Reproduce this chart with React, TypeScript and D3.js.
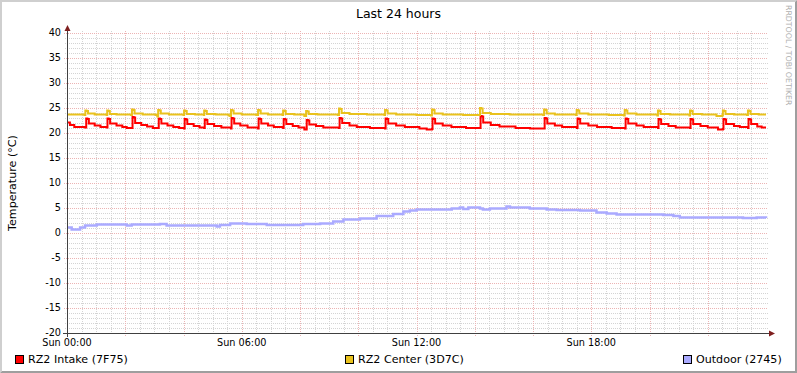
import React from 'react';
import * as d3 from 'd3';

// hours since Sun 00:00, temperature in °C
const intake: [number, number][] = [
  [0, 22.1], [0.1, 21.6], [0.25, 21.2], [0.62, 21.1],
  [0.66, 22.9], [0.7, 22.8], [0.75, 21.9], [0.95, 21.5], [1.15, 21.2], [1.37, 21.1],
  [1.39, 22.9], [1.43, 22.8], [1.48, 21.9], [1.7, 21.5], [1.9, 21.2], [2.05, 21.0], [2.23, 21.0],
  [2.25, 23.2], [2.29, 23.1], [2.34, 22.0], [2.55, 21.6], [2.75, 21.3], [2.95, 21.0], [3.13, 21.0],
  [3.15, 22.9], [3.19, 22.8], [3.24, 21.9], [3.45, 21.5], [3.65, 21.2], [3.85, 21.0], [4.02, 20.9],
  [4.04, 22.8], [4.08, 22.7], [4.13, 21.8], [4.35, 21.4], [4.55, 21.1], [4.71, 21.0],
  [4.73, 22.7], [4.77, 22.6], [4.82, 21.8], [5.05, 21.4], [5.3, 21.1], [5.63, 20.9],
  [5.65, 23.0], [5.69, 22.9], [5.74, 21.9], [5.95, 21.5], [6.2, 21.1], [6.56, 20.9],
  [6.58, 22.9], [6.62, 22.8], [6.67, 21.9], [6.9, 21.5], [7.1, 21.2], [7.42, 21.0],
  [7.44, 22.8], [7.48, 22.7], [7.53, 21.8], [7.75, 21.4], [7.95, 21.1], [8.15, 20.7], [8.21, 20.7],
  [8.23, 22.6], [8.27, 22.5], [8.32, 21.7], [8.55, 21.4], [8.8, 21.1], [9.34, 21.0],
  [9.36, 23.0], [9.4, 22.9], [9.45, 22.0], [9.7, 21.5], [9.95, 21.2], [10.4, 21.0], [10.92, 20.9],
  [10.94, 22.9], [10.98, 22.8], [11.03, 21.9], [11.3, 21.5], [11.6, 21.2], [12.1, 20.9], [12.35, 20.7], [12.53, 20.8],
  [12.55, 22.9], [12.59, 22.8], [12.64, 21.9], [12.9, 21.5], [13.2, 21.2], [13.7, 21.0], [14.18, 21.0],
  [14.2, 23.4], [14.24, 23.3], [14.29, 22.1], [14.55, 21.6], [14.85, 21.3], [15.4, 21.0], [15.9, 20.9], [16.38, 20.9],
  [16.4, 23.0], [16.44, 22.9], [16.49, 21.9], [16.75, 21.5], [17.0, 21.2], [17.51, 21.0],
  [17.53, 22.9], [17.57, 22.8], [17.62, 21.9], [17.9, 21.5], [18.2, 21.2], [18.7, 21.0], [19.16, 20.9],
  [19.18, 22.9], [19.22, 22.8], [19.27, 21.9], [19.55, 21.5], [19.8, 21.2], [20.29, 21.0],
  [20.31, 22.8], [20.35, 22.7], [20.4, 21.8], [20.65, 21.4], [20.9, 21.1], [21.39, 21.0],
  [21.41, 22.8], [21.45, 22.7], [21.5, 21.8], [21.75, 21.4], [22.0, 21.1], [22.35, 20.7], [22.52, 20.8],
  [22.54, 22.8], [22.58, 22.7], [22.63, 21.8], [22.9, 21.4], [23.1, 21.2], [23.38, 21.0],
  [23.4, 22.8], [23.44, 22.7], [23.49, 21.8], [23.7, 21.3], [23.85, 21.1], [24.0, 21.1],
];

const center: [number, number][] = [
  [0, 23.7], [0.6, 23.6], [0.63, 24.5], [0.67, 24.4], [0.72, 23.9], [0.95, 23.7], [1.36, 23.6],
  [1.38, 24.5], [1.42, 24.4], [1.47, 23.8], [1.7, 23.7], [2.2, 23.6],
  [2.23, 24.7], [2.27, 24.6], [2.32, 23.9], [2.6, 23.7], [3.05, 23.6], [3.1, 23.3],
  [3.13, 24.6], [3.17, 24.5], [3.22, 23.9], [3.5, 23.7], [4.0, 23.6],
  [4.02, 24.5], [4.06, 24.4], [4.11, 23.8], [4.4, 23.7], [4.7, 23.6],
  [4.71, 24.5], [4.75, 24.4], [4.8, 23.8], [5.1, 23.7], [5.55, 23.5], [5.6, 23.4],
  [5.63, 24.6], [5.67, 24.5], [5.72, 23.9], [6.0, 23.7], [6.5, 23.6],
  [6.56, 24.6], [6.6, 24.5], [6.65, 23.9], [6.9, 23.7], [7.4, 23.6],
  [7.42, 24.5], [7.46, 24.4], [7.51, 23.8], [7.8, 23.7], [8.15, 23.4],
  [8.21, 24.4], [8.25, 24.3], [8.3, 23.8], [8.6, 23.7], [9.3, 23.6],
  [9.34, 24.9], [9.38, 24.8], [9.43, 24.0], [9.7, 23.8], [10.3, 23.7], [10.9, 23.6],
  [10.92, 24.6], [10.96, 24.5], [11.01, 23.9], [11.3, 23.7], [12.0, 23.6], [12.5, 23.5],
  [12.53, 24.7], [12.57, 24.6], [12.62, 23.9], [12.9, 23.7], [13.6, 23.6], [14.15, 23.6],
  [14.18, 25.0], [14.22, 24.9], [14.27, 24.0], [14.55, 23.8], [15.2, 23.7], [16.35, 23.6],
  [16.38, 24.7], [16.42, 24.6], [16.47, 23.9], [16.75, 23.7], [17.48, 23.6],
  [17.5, 24.6], [17.54, 24.5], [17.59, 23.9], [17.9, 23.7], [18.6, 23.6], [19.12, 23.5],
  [19.15, 24.6], [19.19, 24.5], [19.24, 23.9], [19.55, 23.7], [20.27, 23.5],
  [20.29, 24.5], [20.33, 24.4], [20.38, 23.8], [20.7, 23.7], [21.37, 23.5],
  [21.39, 24.5], [21.43, 24.4], [21.48, 23.8], [21.8, 23.7], [22.3, 23.4], [22.49, 23.5],
  [22.52, 24.5], [22.56, 24.4], [22.61, 23.8], [22.9, 23.7], [23.35, 23.6],
  [23.38, 24.5], [23.42, 24.4], [23.47, 23.8], [23.75, 23.7], [24.0, 23.7],
];

const outdoor: [number, number][] = [
  [0, 1.1], [0.16, 0.7], [0.45, 1.1], [0.62, 1.5], [1.02, 1.7], [2.05, 1.5], [2.22, 1.7],
  [3.19, 1.8], [3.42, 1.5], [5.14, 1.3], [5.25, 1.6], [5.6, 1.9], [6.17, 1.8], [6.86, 1.6],
  [8.0, 1.6], [8.11, 1.8], [8.69, 1.9], [9.14, 2.3], [9.49, 2.7], [10.06, 2.9], [10.63, 3.4],
  [11.2, 3.8], [11.55, 4.3], [11.77, 4.5], [12.0, 4.7], [13.15, 4.7], [13.21, 4.9], [13.49, 5.1],
  [13.6, 4.8], [13.78, 5.1], [14.18, 4.9], [14.28, 4.7], [14.52, 4.9], [15.09, 5.3], [15.21, 5.1],
  [15.89, 4.9], [16.47, 4.7], [16.81, 4.6], [17.61, 4.5], [18.18, 4.1], [18.53, 3.9], [18.87, 3.7],
  [20.47, 3.6], [20.82, 3.4], [21.04, 3.1], [21.5, 3.1], [23.1, 3.1], [23.21, 3.0], [23.68, 3.1],
  [24.0, 3.0],
];

const yTicks = [-20, -15, -10, -5, 0, 5, 10, 15, 20, 25, 30, 35, 40];
const xLabelHours = [0, 6, 12, 18];
const xLabels = ['Sun 00:00', 'Sun 06:00', 'Sun 12:00', 'Sun 18:00'];

const legend = [
  { name: 'RZ2 Intake (7F75)', color: '#ff0000', data: intake, width: 2 },
  { name: 'RZ2 Center (3D7C)', color: '#e9c21d', data: center, width: 2 },
  { name: 'Outdoor (2745)', color: '#aaaaff', data: outdoor, width: 2.5 },
];

const W = 797;
const H = 373;
const font = '"DejaVu Sans", sans-serif';

export default function App() {
  const x = d3.scaleLinear().domain([0, 24]).range([67, 766]);
  const y = d3.scaleLinear().domain([-20, 40]).range([333, 33]);

  const line = d3.line<[number, number]>()
    .x(d => x(d[0]))
    .y(d => y(d[1]))
    .curve(d3.curveStepAfter);

  // grid: minor every half hour / 1 °C, major every 2 hours / 5 °C
  const minorX = d3.range(1, 48).map(i => i / 2).filter(h => h % 2 !== 0);
  const majorX = d3.range(2, 24, 2);
  const minorY = d3.range(-19, 41).filter(v => v % 5 !== 0);
  const majorY = yTicks.filter(v => v > -20);
  const px = (v: number) => Math.round(v) + 0.5;

  const legendX = [15, 345, 683];

  return (
    <svg width={W} height={H} style={{ position: 'absolute', left: 0, top: 0, display: 'block' }}
      fontFamily={font}>
      <rect x={0} y={0} width={W} height={H} fill="#ffffff" />
      {/* frame shading */}
      <polygon points={`0,0 ${W},0 ${W - 2},2 2,2 2,${H - 2} 0,${H}`} fill="#cfcfcf" />
      <polygon points={`${W},0 ${W},${H} 0,${H} 2,${H - 2} ${W - 2},${H - 2} ${W - 2},2`} fill="#9e9e9e" />

      <g strokeWidth={1} strokeDasharray="1,1" fill="none">
        {minorX.map(h => (
          <line key={'mx' + h} x1={px(x(h))} x2={px(x(h))} y1={31} y2={335} stroke="#d4d4d4" />
        ))}
        {minorY.map(v => (
          <line key={'my' + v} x1={65} x2={768} y1={px(y(v))} y2={px(y(v))} stroke="#d4d4d4" />
        ))}
        {majorX.map(h => (
          <line key={'Mx' + h} x1={px(x(h))} x2={px(x(h))} y1={31} y2={336} stroke="#ecb4b4" />
        ))}
        {majorY.map(v => (
          <line key={'My' + v} x1={64} x2={768} y1={px(y(v))} y2={px(y(v))} stroke="#ecb4b4" />
        ))}
      </g>

      {/* series */}
      {legend.map(s => (
        <path key={s.name} d={line(s.data) || ''} fill="none" stroke={s.color}
          strokeWidth={s.width} strokeLinejoin="miter" />
      ))}

      {/* axes */}
      <line x1={px(x(0))} x2={px(x(0))} y1={337} y2={30} stroke="#404040" />
      <line x1={63} x2={770} y1={px(y(-20))} y2={px(y(-20))} stroke="#404040" />
      <polygon points={`${px(x(0)) - 3},31 ${px(x(0)) + 3},31 ${px(x(0))},25`} fill="#7f1f1f" />
      <polygon points={`769,${px(y(-20)) - 3} 769,${px(y(-20)) + 3} 775,${px(y(-20))}`} fill="#7f1f1f" />

      {/* y tick labels */}
      <g fontSize={9.7} fill="#000" textAnchor="end">
        {yTicks.map(v => (
          <text key={v} x={61} y={y(v) + 3.4}>{v}</text>
        ))}
      </g>
      {/* x tick labels */}
      <g fontSize={9.7} fill="#000" textAnchor="middle">
        {xLabelHours.map((h, i) => (
          <text key={h} x={x(h)} y={345.5}>{xLabels[i]}</text>
        ))}
      </g>

      {/* title and unit */}
      <text x={398.5} y={18} fontSize={12.5} textAnchor="middle" fill="#000">Last 24 hours</text>
      <text transform={`translate(16,${(y(40) + y(-20)) / 2}) rotate(-90)`} fontSize={11.1}
        textAnchor="middle" fill="#000">Temperature (°C)</text>
      <text transform="translate(786,5) rotate(90)" fontSize={7.8} fill="#b0b0b0">RRDTOOL / TOBI OETIKER</text>

      {/* legend */}
      {legend.map((s, i) => (
        <g key={s.name}>
          <rect x={legendX[i] + 0.5} y={355.5} width={8} height={8} fill={s.color} stroke="#000" strokeWidth={1} />
          <text x={legendX[i] + 13} y={363} fontSize={11.1} fill="#000">{s.name}</text>
        </g>
      ))}
    </svg>
  );
}
